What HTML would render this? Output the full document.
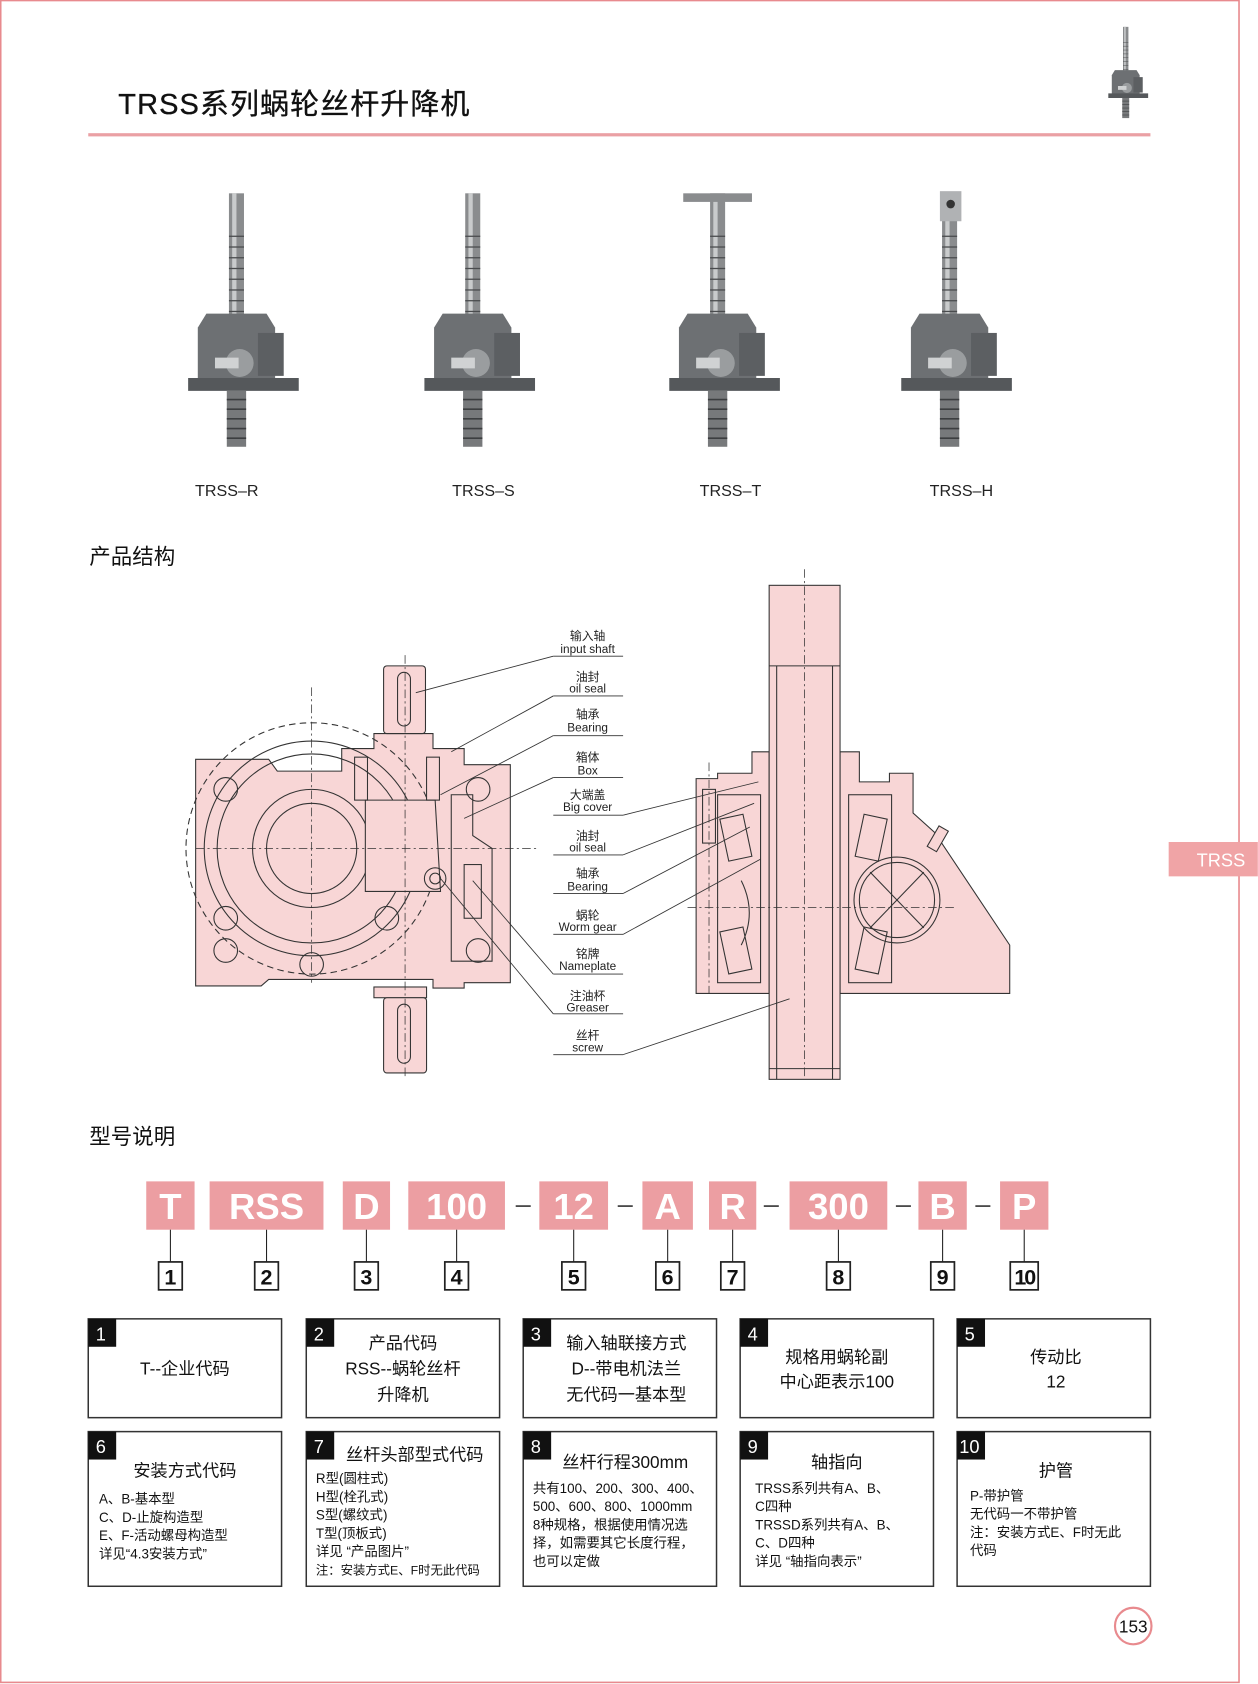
<!DOCTYPE html>
<html><head><meta charset="utf-8"><style>
html,body{margin:0;padding:0;background:#fff}
svg{display:block}
text{font-family:"Liberation Sans","Noto Sans CJK SC",sans-serif}
</style></head><body>
<svg width="1258" height="1684" viewBox="0 0 1171 1568" xmlns="http://www.w3.org/2000/svg">
<defs>
<g id="jack">
  <rect x="-7" y="0" width="14" height="122" fill="#8a8c8e"/>
  <rect x="-4" y="0" width="4" height="122" fill="#c9cbcc"/>
  <g stroke="#4a4c4e" stroke-width="1.2">
    <line x1="-7" y1="40" x2="7" y2="40"/><line x1="-7" y1="50" x2="7" y2="50"/><line x1="-7" y1="60" x2="7" y2="60"/><line x1="-7" y1="70" x2="7" y2="70"/><line x1="-7" y1="80" x2="7" y2="80"/><line x1="-7" y1="90" x2="7" y2="90"/><line x1="-7" y1="100" x2="7" y2="100"/><line x1="-7" y1="110" x2="7" y2="110"/>
  </g>
  <path d="M-28 112 L28 112 L36 125 L36 175 L-36 175 L-36 125 Z" fill="#6d7073"/>
  <rect x="20" y="130" width="24" height="40" fill="#5c5f62"/>
  <circle cx="3" cy="158" r="13" fill="#9a9d9f"/>
  <rect x="-20" y="153" width="22" height="10" fill="#d0d2d3"/>
  <path d="M-45 172 L58 172 L58 184 L-45 184 Z" fill="#55585b"/>
  <rect x="-9" y="184" width="18" height="52" fill="#77797b"/>
  <g stroke="#3c3e40" stroke-width="1.5">
    <line x1="-9" y1="192" x2="9" y2="192"/><line x1="-9" y1="201" x2="9" y2="201"/><line x1="-9" y1="210" x2="9" y2="210"/><line x1="-9" y1="219" x2="9" y2="219"/><line x1="-9" y1="228" x2="9" y2="228"/>
  </g>
</g>
</defs>
<rect x="0.5" y="0.5" width="1153" height="1566" fill="none" stroke="#e88a8e" stroke-width="1.5"/>
<rect x="1088" y="784" width="83" height="32" fill="#f0a4a6"/>
<text x="1114" y="807" font-size="17" fill="#fff">TRSS</text>
<text x="110" y="106" font-size="27" fill="#111" letter-spacing="1" stroke="#111" stroke-width="0.3">TRSS系列蜗轮丝杆升降机</text>
<rect x="82" y="124" width="989" height="3" fill="#eaa0a4"/>
<g transform="translate(1048,25) scale(0.36)"><use href="#jack"/></g>
<g transform="translate(220,180)"><use href="#jack"/></g>
<g transform="translate(440,180)"><use href="#jack"/></g>
<g transform="translate(668,180)"><use href="#jack"/></g>
<rect x="636" y="180" width="64" height="8" fill="#8a8c8e"/>
<g transform="translate(884,180)"><use href="#jack"/></g>
<rect x="875" y="178" width="20" height="28" fill="#b0b2b4"/><circle cx="885" cy="190" r="4" fill="#333"/>
<g font-size="15" fill="#222" text-anchor="middle">
<text x="211" y="462">TRSS–R</text><text x="450" y="462">TRSS–S</text><text x="680" y="462">TRSS–T</text><text x="895" y="462">TRSS–H</text>
</g>
<text x="83" y="525" font-size="20" fill="#111">产品结构</text>
<text x="83" y="1065" font-size="20" fill="#111">型号说明</text>
<g fill="#f8d6d6" stroke="#333" stroke-width="1">
  <path d="M182 707 L250 707 L258 718 L318 718 L318 697 L348 697 L348 683 L403 683 L403 697 L432 697 L432 712 L475 712 L475 915 L432 915 L432 920 L403 920 L403 912 L250 912 L243 918 L182 918 Z"/>
  <rect x="357" y="620" width="39" height="63" rx="3"/>
  <rect x="348" y="919" width="49" height="10"/>
  <rect x="357" y="929" width="40" height="70" rx="3"/>
  <circle cx="290" cy="790" r="117" fill="none" stroke-dasharray="6 4"/>
  <circle cx="290" cy="790" r="100" fill="none"/>
  <circle cx="290" cy="790" r="88" fill="none"/>
  <circle cx="290" cy="790" r="55" fill="none"/>
  <circle cx="290" cy="790" r="42" fill="none"/>
  <rect x="370" y="626" width="12" height="50" rx="6" fill="none"/>
  <rect x="370" y="935" width="12" height="55" rx="6" fill="none"/>
  <path d="M340 745 L405 745 L410 830 L340 830 Z"/>
  <path d="M420 740 L440 740 L440 778 L458 790 L458 895 L420 895 Z" fill="none"/>
  <rect x="432" y="805" width="16" height="50"/>
  <circle cx="405" cy="818" r="10" fill="none"/><circle cx="405" cy="818" r="5" fill="none"/>
  <rect x="330" y="705" width="12" height="40" fill="none"/><rect x="397" y="705" width="12" height="40" fill="none"/>
  <g fill="none">
  <circle cx="210" cy="735" r="11"/><circle cx="445" cy="735" r="11"/><circle cx="210" cy="855" r="11"/><circle cx="210" cy="885" r="11"/><circle cx="445" cy="885" r="11"/><circle cx="360" cy="855" r="11"/><circle cx="290" cy="898" r="11"/>
  </g>
</g>
<g stroke="#333" stroke-width="0.7" stroke-dasharray="8 3 2 3" fill="none">
  <line x1="182" y1="790" x2="500" y2="790"/><line x1="377" y1="610" x2="377" y2="1002"/><line x1="290" y1="640" x2="290" y2="915"/>
</g>
<g fill="#f8d6d6" stroke="#333" stroke-width="1">
  <path d="M648 725 L668 725 L668 720 L700 720 L700 700 L716 700 L716 925 L648 925 Z"/>
  <path d="M782 700 L800 700 L800 728 L828 728 L828 720 L850 720 L850 757 L870 775 L940 880 L940 925 L782 925 Z"/>
  <rect x="716" y="545" width="66" height="460"/>
  <line x1="716" y1="620" x2="782" y2="620"/>
  <line x1="723" y1="620" x2="723" y2="1005"/><line x1="775" y1="620" x2="775" y2="1005"/>
  <line x1="716" y1="995" x2="782" y2="995"/>
  <circle cx="835" cy="838" r="40" fill="none"/><circle cx="835" cy="838" r="35" fill="none"/>
  <line x1="810" y1="812" x2="860" y2="864"/><line x1="860" y1="812" x2="810" y2="864"/>
  <rect x="668" y="740" width="40" height="175" fill="none"/>
  <rect x="790" y="740" width="40" height="175" fill="none"/>
  <rect x="674" y="760" width="22" height="40" fill="none" transform="rotate(-12 685 780)"/>
  <rect x="674" y="865" width="22" height="40" fill="none" transform="rotate(-12 685 885)"/>
  <rect x="800" y="760" width="22" height="40" fill="none" transform="rotate(12 811 780)"/>
  <rect x="800" y="865" width="22" height="40" fill="none" transform="rotate(12 811 885)"/>
  <path d="M690 820 Q705 850 690 880" fill="none"/>
  <rect x="654" y="735" width="12" height="50" fill="none"/>
  <rect x="868" y="770" width="10" height="22" transform="rotate(30 873 781)"/>
</g>
<g stroke="#333" stroke-width="0.7" stroke-dasharray="8 3 2 3" fill="none">
  <line x1="749" y1="530" x2="749" y2="1005"/><line x1="640" y1="845" x2="890" y2="845"/><line x1="660" y1="710" x2="660" y2="925"/>
</g>
<g font-size="11" fill="#222" text-anchor="middle">
<text x="547" y="596">输入轴</text><text x="547" y="608">input shaft</text>
<text x="547" y="634">油封</text><text x="547" y="645">oil seal</text>
<text x="547" y="669">轴承</text><text x="547" y="681">Bearing</text>
<text x="547" y="709">箱体</text><text x="547" y="721">Box</text>
<text x="547" y="744">大端盖</text><text x="547" y="755">Big cover</text>
<text x="547" y="782">油封</text><text x="547" y="793">oil seal</text>
<text x="547" y="817">轴承</text><text x="547" y="829">Bearing</text>
<text x="547" y="856">蜗轮</text><text x="547" y="867">Worm gear</text>
<text x="547" y="892">铭牌</text><text x="547" y="903">Nameplate</text>
<text x="547" y="931">注油杯</text><text x="547" y="942">Greaser</text>
<text x="547" y="968">丝杆</text><text x="547" y="979">screw</text>
</g>
<g stroke="#333" stroke-width="0.8" fill="none">
<line x1="515" y1="611" x2="580" y2="611"/><line x1="515" y1="611" x2="387" y2="645"/>
<line x1="515" y1="648" x2="580" y2="648"/><line x1="515" y1="648" x2="420" y2="700"/>
<line x1="515" y1="685" x2="580" y2="685"/><line x1="515" y1="685" x2="410" y2="740"/>
<line x1="515" y1="724" x2="580" y2="724"/><line x1="515" y1="724" x2="432" y2="762"/>
<line x1="515" y1="759" x2="580" y2="759"/><line x1="580" y1="759" x2="706" y2="728"/>
<line x1="515" y1="796" x2="580" y2="796"/><line x1="580" y1="796" x2="702" y2="748"/>
<line x1="515" y1="832" x2="580" y2="832"/><line x1="580" y1="832" x2="698" y2="770"/>
<line x1="515" y1="870" x2="580" y2="870"/><line x1="580" y1="870" x2="708" y2="800"/>
<line x1="515" y1="907" x2="580" y2="907"/><line x1="515" y1="907" x2="440" y2="820"/>
<line x1="515" y1="944" x2="580" y2="944"/><line x1="515" y1="944" x2="410" y2="818"/>
<line x1="515" y1="982" x2="580" y2="982"/><line x1="580" y1="982" x2="735" y2="930"/>
</g>
<g fill="#ec9ea2">
<rect x="136" y="1100" width="45" height="45"/><rect x="195" y="1100" width="106" height="45"/><rect x="319" y="1100" width="44" height="45"/><rect x="380" y="1100" width="90" height="45"/><rect x="502" y="1100" width="64" height="45"/><rect x="598" y="1100" width="47" height="45"/><rect x="660" y="1100" width="44" height="45"/><rect x="735" y="1100" width="91" height="45"/><rect x="855" y="1100" width="45" height="45"/><rect x="931" y="1100" width="45" height="45"/>
</g>
<g font-size="34" font-weight="bold" fill="#fff" text-anchor="middle">
<text x="158.5" y="1135">T</text><text x="248" y="1135">RSS</text><text x="341" y="1135">D</text><text x="425" y="1135">100</text><text x="534" y="1135">12</text><text x="621.5" y="1135">A</text><text x="682" y="1135">R</text><text x="780.5" y="1135">300</text><text x="877.5" y="1135">B</text><text x="953.5" y="1135">P</text>
</g>
<g stroke="#333" stroke-width="1.5">
<line x1="480" y1="1123" x2="494" y2="1123"/><line x1="575" y1="1123" x2="589" y2="1123"/><line x1="711" y1="1123" x2="725" y2="1123"/><line x1="834" y1="1123" x2="848" y2="1123"/><line x1="908" y1="1123" x2="922" y2="1123"/>
</g>
<g stroke="#222" stroke-width="1" fill="#fff">
<line x1="158.5" y1="1145" x2="158.5" y2="1175"/><line x1="248" y1="1145" x2="248" y2="1175"/><line x1="341" y1="1145" x2="341" y2="1175"/><line x1="425" y1="1145" x2="425" y2="1175"/><line x1="534" y1="1145" x2="534" y2="1175"/><line x1="621.5" y1="1145" x2="621.5" y2="1175"/><line x1="682" y1="1145" x2="682" y2="1175"/><line x1="780.5" y1="1145" x2="780.5" y2="1175"/><line x1="877.5" y1="1145" x2="877.5" y2="1175"/><line x1="953.5" y1="1145" x2="953.5" y2="1175"/>
<g stroke-width="1.6">
<rect x="147.5" y="1175" width="22" height="26"/><rect x="237" y="1175" width="22" height="26"/><rect x="330" y="1175" width="22" height="26"/><rect x="414" y="1175" width="22" height="26"/><rect x="523" y="1175" width="22" height="26"/><rect x="610.5" y="1175" width="22" height="26"/><rect x="671" y="1175" width="22" height="26"/><rect x="769.5" y="1175" width="22" height="26"/><rect x="866.5" y="1175" width="22" height="26"/><rect x="940.5" y="1175" width="26" height="26"/>
</g></g>
<g font-size="20" font-weight="bold" fill="#111" text-anchor="middle">
<text x="158.5" y="1196">1</text><text x="248" y="1196">2</text><text x="341" y="1196">3</text><text x="425" y="1196">4</text><text x="534" y="1196">5</text><text x="621.5" y="1196">6</text><text x="682" y="1196">7</text><text x="780.5" y="1196">8</text><text x="877.5" y="1196">9</text><text x="953.5" y="1196" letter-spacing="-2">10</text>
</g>
<g fill="#fff" stroke="#333" stroke-width="1.4">
<rect x="82" y="1228" width="180" height="92"/><rect x="285" y="1228" width="180" height="92"/><rect x="487" y="1228" width="180" height="92"/><rect x="689" y="1228" width="180" height="92"/><rect x="891" y="1228" width="180" height="92"/>
<rect x="82" y="1333" width="180" height="144"/><rect x="285" y="1333" width="180" height="144"/><rect x="487" y="1333" width="180" height="144"/><rect x="689" y="1333" width="180" height="144"/><rect x="891" y="1333" width="180" height="144"/>
</g>
<g fill="#111">
<rect x="82" y="1228" width="26" height="26"/><rect x="285" y="1228" width="26" height="26"/><rect x="487" y="1228" width="26" height="26"/><rect x="689" y="1228" width="26" height="26"/><rect x="891" y="1228" width="26" height="26"/>
<rect x="82" y="1333" width="26" height="26"/><rect x="285" y="1333" width="26" height="26"/><rect x="487" y="1333" width="26" height="26"/><rect x="689" y="1333" width="26" height="26"/><rect x="891" y="1333" width="26" height="26"/>
</g>
<g font-size="17" fill="#fff">
<text x="89" y="1248">1</text><text x="292" y="1248">2</text><text x="494" y="1248">3</text><text x="696" y="1248">4</text><text x="898" y="1248">5</text>
<text x="89" y="1353">6</text><text x="292" y="1353">7</text><text x="494" y="1353">8</text><text x="696" y="1353">9</text><text x="893" y="1353">10</text>
</g>
<g font-size="16" fill="#111" text-anchor="middle">
<text x="172" y="1280">T--企业代码</text>
<text x="375" y="1256">产品代码</text><text x="375" y="1280">RSS--蜗轮丝杆</text><text x="375" y="1304">升降机</text>
<text x="583" y="1256">输入轴联接方式</text><text x="583" y="1280">D--带电机法兰</text><text x="583" y="1304">无代码一基本型</text>
<text x="779" y="1269">规格用蜗轮副</text><text x="779" y="1292">中心距表示100</text>
<text x="983" y="1269">传动比</text><text x="983" y="1292">12</text>
<text x="172" y="1375">安装方式代码</text>
<text x="386" y="1360">丝杆头部型式代码</text>
<text x="582" y="1367">丝杆行程300mm</text>
<text x="779" y="1367">轴指向</text>
<text x="983" y="1375">护管</text>
</g>
<g font-size="12.5" fill="#111">
<text x="92" y="1400">A、B-基本型</text><text x="92" y="1417">C、D-止旋构造型</text><text x="92" y="1434">E、F-活动螺母构造型</text><text x="92" y="1451">详见“4.3安装方式”</text>
<text x="294" y="1381">R型(圆柱式)</text><text x="294" y="1398">H型(栓孔式)</text><text x="294" y="1415">S型(螺纹式)</text><text x="294" y="1432">T型(顶板式)</text><text x="294" y="1449">详见 “产品图片”</text><text x="294" y="1466" font-size="11.5">注：安装方式E、F时无此代码</text>
<text x="496" y="1390">共有100、200、300、400、</text><text x="496" y="1407">500、600、800、1000mm</text><text x="496" y="1424">8种规格，根据使用情况选</text><text x="496" y="1441">择，如需要其它长度行程，</text><text x="496" y="1458">也可以定做</text>
<text x="703" y="1390">TRSS系列共有A、B、</text><text x="703" y="1407">C四种</text><text x="703" y="1424">TRSSD系列共有A、B、</text><text x="703" y="1441">C、D四种</text><text x="703" y="1458">详见 “轴指向表示”</text>
<text x="903" y="1397">P-带护管</text><text x="903" y="1414">无代码一不带护管</text><text x="903" y="1431">注：安装方式E、F时无此</text><text x="903" y="1448">代码</text>
</g>
<circle cx="1055" cy="1514" r="17" fill="#fff" stroke="#e88a8e" stroke-width="2"/>
<text x="1055" y="1520" font-size="16" fill="#111" text-anchor="middle">153</text>
</svg>
</body></html>
